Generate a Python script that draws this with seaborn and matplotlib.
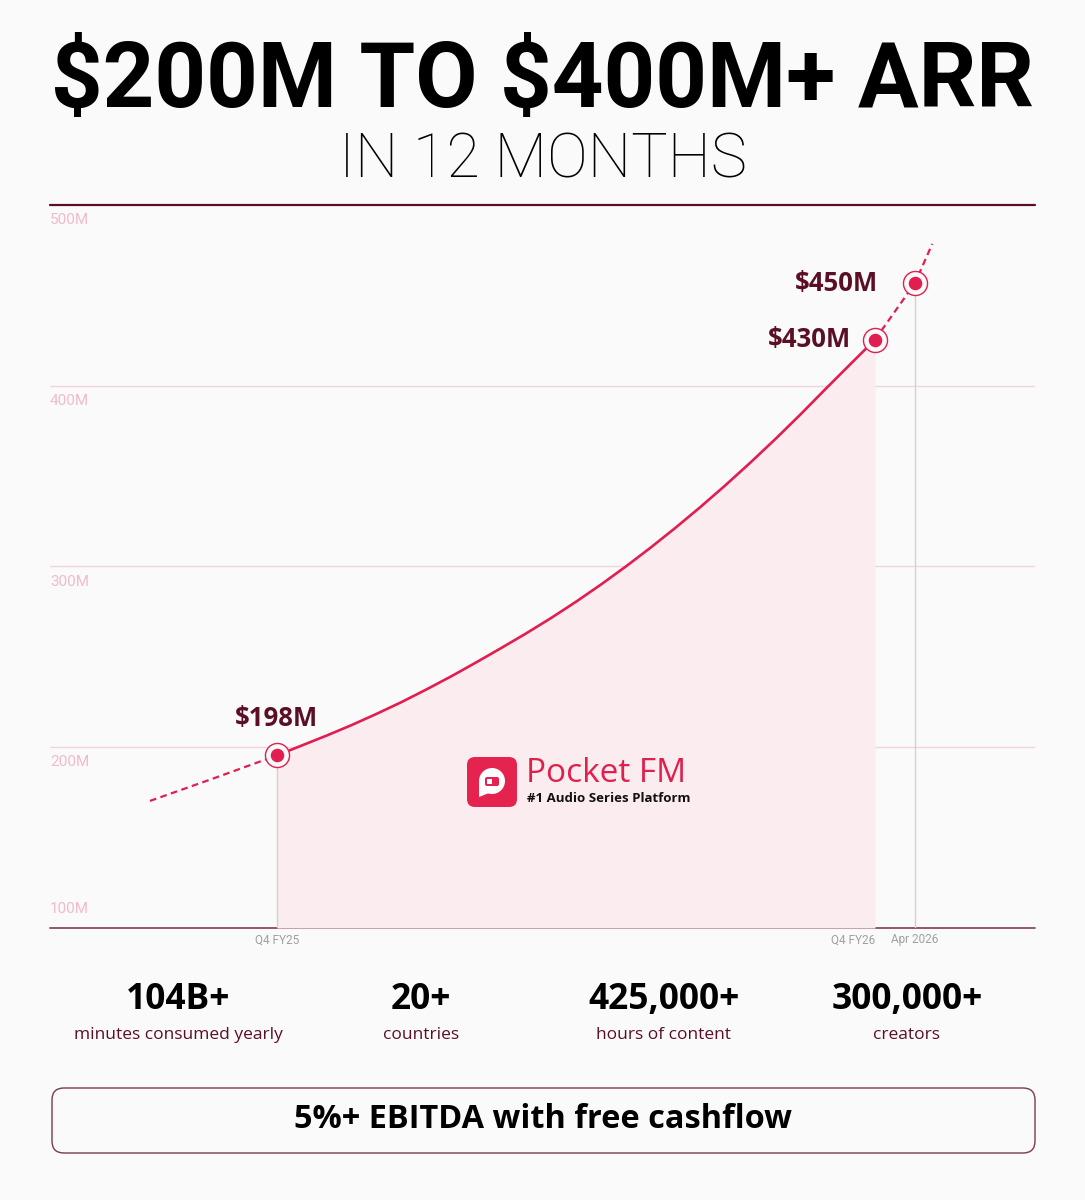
import numpy as np
import pandas as pd
import matplotlib
matplotlib.use("Agg")
import matplotlib.pyplot as plt
import seaborn as sns
from matplotlib.patches import FancyBboxPatch, Circle, Polygon, Rectangle

# ---------------- data ----------------
# months relative to Q4 FY25 (0) ; ARR in $M
solid_months = [0, 0.5, 1, 1.5, 2, 2.5, 3, 3.5, 4, 4.5, 5, 5.5, 6, 6.5, 7, 7.5, 8, 8.5, 9, 9.5,
                10, 10.5, 11, 11.5, 12]
solid_arr = [195.5, 201, 206.5, 212.3, 218.5, 225, 232, 239.3, 247, 254.9, 263, 271.5, 280.5,
             290, 300, 310.5, 321.5, 333, 345, 357.5, 370.5, 384, 398, 411.8, 425.5]
past_months = [-2.55, -1.3, 0]
past_arr = [170.3, 182.5, 195.5]
future_months = [12, 12.8, 13.15]
future_arr = [425.5, 456.7, 478.5]

marker_months = [0, 12, 12.8]
marker_arr = [195.5, 425.5, 456.7]
marker_labels = ["$198M", "$430M", "$450M"]

ytick_vals = [500, 400, 300, 200, 100]
ytick_labels = ["500M", "400M", "300M", "200M", "100M"]
xtick_months = [0, 12, 12.8]
xtick_labels = ["Q4 FY25", "Q4 FY26", "Apr 2026"]

stat_values = ["104B+", "20+", "425,000+", "300,000+"]
stat_labels = ["minutes consumed yearly", "countries", "hours of content", "creators"]

title = "$200M TO $400M+ ARR"
subtitle = "IN 12 MONTHS"
footer = "5%+ EBITDA with free cashflow"
brand = "Pocket FM"
tagline = "#1 Audio Series Platform"

# ---------------- style ----------------
sns.set_theme(style="white")
plt.rcParams['font.family'] = ['Open Sans', 'DejaVu Sans']
plt.rcParams['text.parse_math'] = False

BG = "#fafafa"
CRIMSON = "#e01e4f"
MAROON = "#5a0f25"
FILL = "#fbecef"
GRID = "#f2d3da"

W, H = 1085, 1200
fig = plt.figure(figsize=(W / 100, H / 100), dpi=100, facecolor=BG)

def fx(x):
    return x / W

def fy(y):
    return 1 - y / H

# axes spanning px x 50..1035, y 205..928
ax = fig.add_axes([fx(50), fy(928), (1035 - 50) / W, (928 - 205) / H])
ax.set_facecolor(BG)
px_per_month = (875 - 277) / 12
XL = ((50 - 277) / px_per_month, (1035 - 277) / px_per_month)

# grid lines
for v in [200, 300, 400]:
    ax.axhline(v, color=GRID, lw=1.0, zorder=0)
ax.axhline(500, color=MAROON, lw=1.6, zorder=1, clip_on=False)
ax.axhline(100, color="#8a4a5a", lw=1.3, zorder=1, clip_on=False)

# fill under solid curve
ax.fill_between(solid_months, solid_arr, 100, color=FILL, lw=0, zorder=1)

# vertical reference lines
ax.vlines(marker_months[0], 100, marker_arr[0], color="#d6d0d2", lw=1.0, zorder=2)
ax.vlines(marker_months[2], 100, marker_arr[2], color="#d6d0d2", lw=1.0, zorder=2)

# curves
df_solid = pd.DataFrame({"m": solid_months, "arr": solid_arr})
df_past = pd.DataFrame({"m": past_months, "arr": past_arr})
df_future = pd.DataFrame({"m": future_months, "arr": future_arr})
sns.lineplot(data=df_solid, x="m", y="arr", ax=ax, color=CRIMSON, lw=1.9, zorder=3, sort=False,
             solid_joinstyle="round")
sns.lineplot(data=df_past, x="m", y="arr", ax=ax, color=CRIMSON, lw=1.6, zorder=3, sort=False,
             linestyle=(0, (3, 2)))
sns.lineplot(data=df_future, x="m", y="arr", ax=ax, color=CRIMSON, lw=1.6, zorder=3, sort=False,
             linestyle=(0, (3, 2)))
ax.set_xlabel("")
ax.set_ylabel("")
ax.set_xlim(*XL)
ax.set_ylim(100, 500)
for s in ax.spines.values():
    s.set_visible(False)
ax.set_xticks([])
ax.set_yticks([])

# markers
ax.scatter(marker_months, marker_arr, s=300, facecolor=BG, edgecolor=CRIMSON, lw=1.0, zorder=4)
ax.scatter(marker_months, marker_arr, s=95, color=CRIMSON, lw=0, zorder=6)

# marker labels
unit = 723 / 400  # px per $M
lab_kw = dict(fontsize=18.5, fontweight="bold", color=MAROON, zorder=7)
ax.text(marker_months[0], marker_arr[0] + 37 / unit, marker_labels[0], ha="center", va="center", **lab_kw)
ax.text(marker_months[1] - 24 / px_per_month, marker_arr[1], marker_labels[1], ha="right", va="center", **lab_kw)
ax.text(marker_months[2] - 37 / px_per_month, marker_arr[2], marker_labels[2], ha="right", va="center", **lab_kw)

# y labels
for v, lab in zip(ytick_vals, ytick_labels):
    yy = v - 15 / unit if v != 100 else v + 19 / unit
    ax.text(XL[0], yy, lab, ha="left", va="center", fontsize=11,
            color="#f0bccb", family=["Roboto", "DejaVu Sans"], fontweight="normal")

# x labels
xkw = dict(fontsize=8.5, color="#a0a0a0", clip_on=False, family=["Roboto", "DejaVu Sans"], va="center")
ax.text(xtick_months[0], 100 - 12 / unit, xtick_labels[0], ha="center", **xkw)
ax.text(xtick_months[1], 100 - 12 / unit, xtick_labels[1], ha="right", **xkw)
ax.text(xtick_months[2], 100 - 12 / unit, xtick_labels[2], ha="center", **xkw)

# ---------------- title ----------------
fig.text(0.5, fy(82), title, ha="center", va="center", fontsize=65, fontweight="bold",
         color="black", family=["Roboto", "DejaVu Sans"])
fig.text(0.5, fy(161), subtitle, ha="center", va="center", fontsize=44, fontweight="light",
         color="black", family=["Roboto", "DejaVu Sans"])

# ---------------- logo ----------------
lx0, ly0, ls = 467, 757, 50
logo_ax = fig.add_axes([0, 0, 1, 1], facecolor="none")
logo_ax.set_xlim(0, W)
logo_ax.set_ylim(H, 0)
logo_ax.axis("off")
logo_ax.add_patch(FancyBboxPatch((lx0 + 4, ly0 + 4), ls - 8, ls - 8,
                                 boxstyle="round,pad=4,rounding_size=8",
                                 fc="#e5234f", ec="none", zorder=8))
cx, cy = lx0 + 25, ly0 + 24
logo_ax.add_patch(Circle((cx, cy), 13, fc="white", ec="none", zorder=9))
logo_ax.add_patch(Polygon([[cx - 13, cy], [cx - 13, cy + 16], [cx - 3, cy + 12]], closed=True,
                          fc="white", ec="none", zorder=9))
logo_ax.add_patch(FancyBboxPatch((cx - 7, cy - 4), 14, 9, boxstyle="round,pad=0,rounding_size=2",
                                 fc="#e5234f", ec="none", zorder=10))
logo_ax.add_patch(Rectangle((cx - 5, cy - 2), 5, 5, fc="white", ec="none", zorder=11))
fig.text(fx(526), fy(773), brand, ha="left", va="center", fontsize=24, fontweight="medium",
         color="#e0204c")
fig.text(fx(527), fy(799), tagline, ha="left", va="center", fontsize=9.5, fontweight="bold",
         color="#111111")

# ---------------- stats ----------------
centers = [178, 421, 664, 907]
for c, v, lab in zip(centers, stat_values, stat_labels):
    fig.text(fx(c), fy(1000), v, ha="center", va="center", fontsize=25.5, fontweight="bold", color="black")
    fig.text(fx(c), fy(1035), lab, ha="center", va="center", fontsize=12.5, color=MAROON)

# ---------------- footer box ----------------
logo_ax.add_patch(FancyBboxPatch((52, 1088), 983, 65, boxstyle="round,pad=0,rounding_size=12",
                                 fc="none", ec="#7a3a4c", lw=1.0, zorder=8))
fig.text(0.5, fy(1120), footer, ha="center", va="center", fontsize=23.4, fontweight="bold", color="black")

fig.savefig("out.png", dpi=100, facecolor=BG)
